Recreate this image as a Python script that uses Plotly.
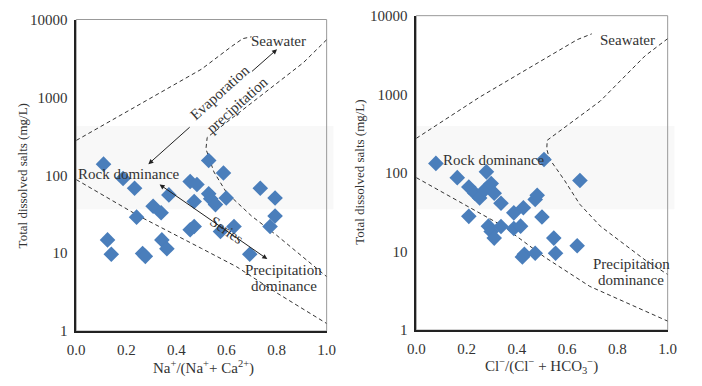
import plotly.graph_objects as go
import math

# ---------------- data ----------------
# Left panel: Na+/(Na+ + Ca2+) vs TDS
na_ratio = [0.109, 0.187, 0.233, 0.370, 0.455, 0.482, 0.471, 0.529, 0.588, 0.529,
            0.537, 0.556, 0.599, 0.735, 0.794, 0.794, 0.774, 0.307, 0.339, 0.241,
            0.455, 0.471, 0.630, 0.576, 0.693, 0.125, 0.140, 0.342, 0.362, 0.265, 0.276]
tds_left = [139, 91, 68, 56, 83, 76, 46, 155, 107, 58,
            50, 42, 51, 68, 51, 30, 22, 40, 33, 29,
            20, 22, 22, 19, 9.7, 14.8, 9.7, 14.8, 11.4, 9.9, 9.1]

# Right panel: Cl-/(Cl- + HCO3-) vs TDS
cl_ratio = [0.078, 0.163, 0.279, 0.209, 0.233, 0.252, 0.271, 0.298, 0.310, 0.337,
            0.388, 0.426, 0.473, 0.481, 0.508, 0.651, 0.500, 0.209, 0.287, 0.298,
            0.310, 0.337, 0.388, 0.415, 0.430, 0.473, 0.547, 0.554, 0.640, 0.422]
tds_right = [132, 87, 103, 66, 55, 48, 60, 73, 55, 41,
             31, 36, 46, 52, 148, 80, 27.5, 28, 21, 18,
             14.8, 20.8, 19.6, 21, 9.2, 9.5, 14.8, 9.5, 11.8, 8.5]

# Gibbs boundary curves (left)
L_top_x = [0, 0.25, 0.5, 0.62, 0.665, 0.70]
L_top_y = [280, 800, 2300, 4500, 5680, 6000]
L_right_x = [1.0, 0.907, 0.523, 0.518, 0.55, 0.6, 0.7, 0.8, 1.0]
L_right_y = [5500, 2790, 306, 218, 110, 60, 30, 17, 5]
L_low_x = [0, 0.25, 0.5, 0.64, 0.8, 1.0]
L_low_y = [88, 30, 11.5, 6.7, 3.1, 1.25]

# Gibbs boundary curves (right)
R_top_x = [0, 0.252, 0.64, 0.698]
R_top_y = [275, 920, 4950, 5870]
R_right_x = [1.0, 0.91, 0.732, 0.521, 0.519, 0.53, 0.56, 0.59, 0.65, 0.732, 0.91, 1.0]
R_right_y = [5100, 3080, 820, 260, 202, 150, 110, 80, 40, 21, 7.8, 5.1]
R_low_x = [0, 0.345, 0.51, 0.69, 1.0]
R_low_y = [87, 21, 8.5, 3.6, 1.3]

x_ticks = [0.0, 0.2, 0.4, 0.6, 0.8, 1.0]
y_ticks = [1, 10, 100, 1000, 10000]
y_tick_text = ["1", "10", "100", "1000", "10000"]

# ---------------- figure ----------------
W, H = 702, 386
FONT = "Liberation Serif"
MARK = "#4a7ebb"
LINE = "#333333"

def px(x):
    return x / W

def py(y):
    return 1 - y / H

fig = go.Figure()

def add_line(x, y, xa, ya):
    fig.add_trace(go.Scatter(x=x, y=y, mode="lines", xaxis=xa, yaxis=ya,
                             line=dict(color=LINE, width=1, dash="4px,3px"),
                             hoverinfo="skip", showlegend=False))

add_line(L_top_x, L_top_y, "x", "y")
add_line(L_right_x, L_right_y, "x", "y")
add_line(L_low_x, L_low_y, "x", "y")
add_line(R_top_x, R_top_y, "x2", "y2")
add_line(R_right_x, R_right_y, "x2", "y2")
add_line(R_low_x, R_low_y, "x2", "y2")

fig.add_trace(go.Scatter(x=na_ratio, y=tds_left, mode="markers", xaxis="x", yaxis="y",
                         marker=dict(symbol="diamond", size=12, color=MARK),
                         showlegend=False))
fig.add_trace(go.Scatter(x=cl_ratio, y=tds_right, mode="markers", xaxis="x2", yaxis="y2",
                         marker=dict(symbol="diamond", size=12, color=MARK),
                         showlegend=False))

axis_common = dict(showgrid=False, zeroline=False, showline=True, linecolor="#222",
                   linewidth=1.5, ticks="outside", ticklen=4, tickcolor="rgba(0,0,0,0)",
                   tickfont=dict(family=FONT, size=15, color="#333"))

fig.update_layout(
    width=W, height=H, margin=dict(l=0, r=0, t=0, b=0),
    paper_bgcolor="white", plot_bgcolor="rgba(0,0,0,0)",
    font=dict(family=FONT, color="#333"),
    xaxis=dict(domain=[px(69), px(326)], range=[0, 1], tickvals=x_ticks, tickformat=".1f",
               anchor="y", **axis_common),
    yaxis=dict(domain=[py(337), py(12)], type="log", range=[0, 4], tickvals=y_ticks,
               ticktext=y_tick_text, anchor="x", **axis_common),
    xaxis2=dict(domain=[px(418), px(676)], range=[0, 1], tickvals=x_ticks, tickformat=".1f",
                anchor="y2", **axis_common),
    yaxis2=dict(domain=[py(336), py(8)], type="log", range=[0, 4], tickvals=y_ticks,
                ticktext=y_tick_text, anchor="x2", **axis_common),
)

# faint band + frames
shapes = [
    dict(type="rect", xref="paper", yref="paper", x0=px(68), x1=px(333), y0=py(210), y1=py(123),
         fillcolor="#f8f8f8", line=dict(width=0), layer="below"),
    dict(type="rect", xref="paper", yref="paper", x0=px(418), x1=px(683), y0=py(210), y1=py(123),
         fillcolor="#f8f8f8", line=dict(width=0), layer="below"),
    dict(type="rect", xref="x domain", yref="y domain", x0=0, x1=1, y0=0, y1=1,
         line=dict(color="#999", width=1), layer="below"),
    dict(type="rect", xref="x2 domain", yref="y2 domain", x0=0, x1=1, y0=0, y1=1,
         line=dict(color="#999", width=1), layer="below"),
]
fig.update_layout(shapes=shapes)

ann = []
def text(x, y, s, size=15, angle=0, xanchor="center"):
    ann.append(dict(xref="paper", yref="paper", x=px(x), y=py(y), text=s, showarrow=False,
                    textangle=angle, xanchor=xanchor, yanchor="middle",
                    font=dict(family=FONT, size=size, color="#333")))

# axis titles
text(14, 175, "Total dissolved salts (mg/L)", size=13, angle=-90)
text(360, 171, "Total dissolved salts (mg/L)", size=13, angle=-90)
text(200, 375, "Na<sup>+</sup>/(Na<sup>+</sup>+ Ca<sup>2+</sup>)", size=15)
text(547, 374, "Cl<sup>−</sup>/(Cl<sup>−</sup> + HCO<sub>3</sub><sup>−</sup>)", size=15)

# labels left
text(277, 34, "Seawater")
text(123, 173, "Rock dominance")
text(282, 273, "Precipitation")
text(282, 290, "dominance")
text(217, 88, "Evaporation", angle=-42)
text(234, 101, "precipitation", angle=-42)
text(223, 232, "Series", angle=35)

# labels right
text(635, 33, "Seawater")
text(498, 159, "Rock dominance")
text(639, 267, "Precipitation")
text(638, 284, "dominance")

def arrow(x0, y0, x1, y1, xa="x", ya="y", side="end"):
    # arrow from (x0,y0) to (x1,y1) in data units (log axis -> log10)
    ann.append(dict(xref=xa, yref=ya, axref=xa, ayref=ya,
                    x=x1, y=math.log10(y1), ax=x0, ay=math.log10(y0),
                    showarrow=True, arrowhead=2, arrowsize=1, arrowwidth=1,
                    arrowcolor="#222", arrowside=side, text=""))

# evaporation arrow in two pieces (gap for text)
arrow(0.459, 10 ** 2.634, 0.288, 139)
arrow(0.696, 10 ** 3.317, 0.802, 4150)
# series double arrow
arrow(0.327, 78.5, 0.763, 8.4, side="end+start")

fig.update_layout(annotations=ann)

fig.write_html("out.html")
